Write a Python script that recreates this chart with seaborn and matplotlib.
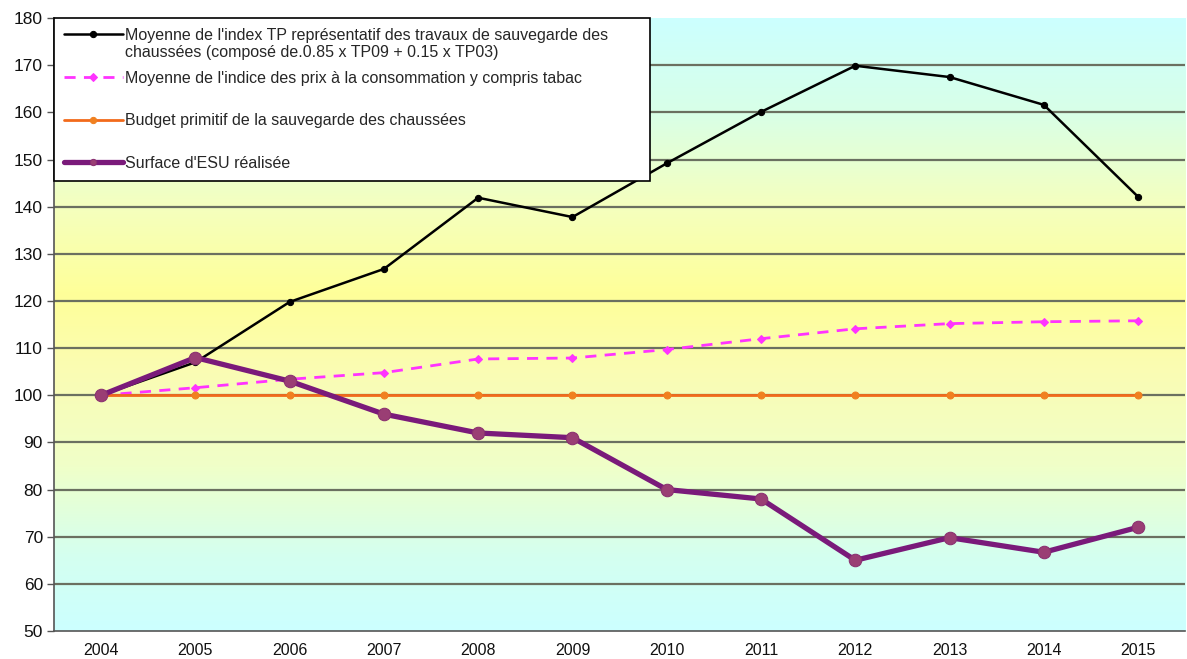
import numpy as np
import pandas as pd
import matplotlib
matplotlib.use("Agg")
import matplotlib.pyplot as plt
from matplotlib.colors import LinearSegmentedColormap
import seaborn as sns

# data
years = [2004, 2005, 2006, 2007, 2008, 2009, 2010, 2011, 2012, 2013, 2014, 2015]
index_tp = [100, 107, 119.8, 126.8, 141.9, 137.8, 149.2, 160.1, 169.9, 167.5, 161.6, 142.1]
ipc_tabac = [100, 101.6, 103.4, 104.8, 107.7, 107.9, 109.7, 112.0, 114.1, 115.2, 115.6, 115.8]
budget = [100, 100, 100, 100, 100, 100, 100, 100, 100, 100, 100, 100]
surface_esu = [100, 108, 103, 96, 92, 91, 80, 78, 65, 69.8, 66.7, 72]

labels = [
    "Moyenne de l'index TP représentatif des travaux de sauvegarde des",
    "Moyenne de l'indice des prix à la consommation y compris tabac",
    "Budget primitif de la sauvegarde des chaussées",
    "Surface d'ESU réalisée",
]
# second line of the first legend label
label0_line2 = "chaussées (composé de.0.85 x TP09 + 0.15 x TP03)"

df = pd.DataFrame({"Année": years, labels[0]: index_tp, labels[1]: ipc_tabac,
                   labels[2]: budget, labels[3]: surface_esu})
long_df = df.melt(id_vars="Année", var_name="Série", value_name="Valeur")

sns.set_style("white")
plt.rcParams['font.family'] = ['Liberation Sans', 'DejaVu Sans']

fig = plt.figure(figsize=(11.87, 6.59), dpi=100)
ax = fig.add_axes([0.0455, 0.0425, 0.953, 0.930])

# vertical gradient background (cyan - yellow - cyan)
bg = LinearSegmentedColormap.from_list("bg", [
    (0.0, "#ccffff"), (0.12, "#d4fff0"), (0.27, "#f0ffc8"), (0.42, "#fafcb4"),
    (0.55, "#ffff99"), (0.70, "#f4ffc0"), (0.85, "#d8ffe8"), (1.0, "#ccffff")])
grad = np.linspace(0, 1, 256).reshape(-1, 1)
ax.imshow(grad, cmap=bg, aspect="auto", extent=[2003.5, 2015.5, 50, 180],
          origin="lower", zorder=0)

for yv in range(60, 180, 10):
    ax.axhline(yv, color="#6b7060", lw=1.6, zorder=1)

styles = {
    labels[0]: dict(color="black", lw=1.8, marker="o", ms=4.5, ls="-", mfc="black", mec="black"),
    labels[1]: dict(color="#ff33ff", lw=2.0, marker="D", ms=4.5, ls=(0, (4, 3)), mfc="#ff33ff", mec="#ff33ff"),
    labels[2]: dict(color="#f26a1b", lw=2.0, marker="o", ms=5, ls="-", mfc="#f08020", mec="#f08020"),
    labels[3]: dict(color="#7a1a7a", lw=3.8, marker="o", ms=9, ls="-", mfc="#9a3e74", mec="#8a3070"),
}
for name in labels:
    st = styles[name]
    sns.lineplot(data=long_df[long_df["Série"] == name], x="Année", y="Valeur",
                 ax=ax, label=name, color=st["color"], lw=st["lw"], marker=st["marker"],
                 markersize=st["ms"], linestyle=st["ls"], markerfacecolor=st["mfc"],
                 markeredgecolor=st["mec"], zorder=3)

ax.set_xlim(2003.5, 2015.5)
ax.set_ylim(50, 180)
ax.set_yticks(range(50, 181, 10))
ax.set_xticks(years)
ax.set_xticklabels([str(y) for y in years])
ax.set_xticks([y - 0.5 for y in years] + [2015.5], minor=True)
ax.tick_params(axis="x", which="major", length=0, labelsize=11.5, pad=9, colors="#111111")
ax.tick_params(axis="x", which="minor", length=5, width=1, color="#555555", direction="out")
ax.tick_params(axis="y", length=5, width=1, color="#555555", labelsize=12.5, pad=3,
               labelcolor="#111111", direction="out", left=True)
ax.set_xlabel("")
ax.set_ylabel("")
for s in ["top", "right"]:
    ax.spines[s].set_visible(False)
for s in ["left", "bottom"]:
    ax.spines[s].set_color("#555555")
    ax.spines[s].set_linewidth(1.2)

leg = ax.legend(loc="upper left", bbox_to_anchor=(0, 1, 0.527, 0), mode="expand",
                borderaxespad=0, frameon=True, fancybox=False, edgecolor="black",
                framealpha=1, fontsize=11.5, handlelength=3.7, handletextpad=0.15,
                labelspacing=1.73, borderpad=0.62)
leg.get_frame().set_linewidth(1.2)
for h in leg.legend_handles:
    h.set_markersize(4.5)

# second line of the first entry, placed just under its first line
ax.annotate(label0_line2, xy=(0, 1), xycoords=leg.get_texts()[0],
            xytext=(0, -12.3), textcoords="offset points", va="top", ha="left",
            fontsize=11.5, zorder=10)

fig.savefig("out.png", dpi=100)
